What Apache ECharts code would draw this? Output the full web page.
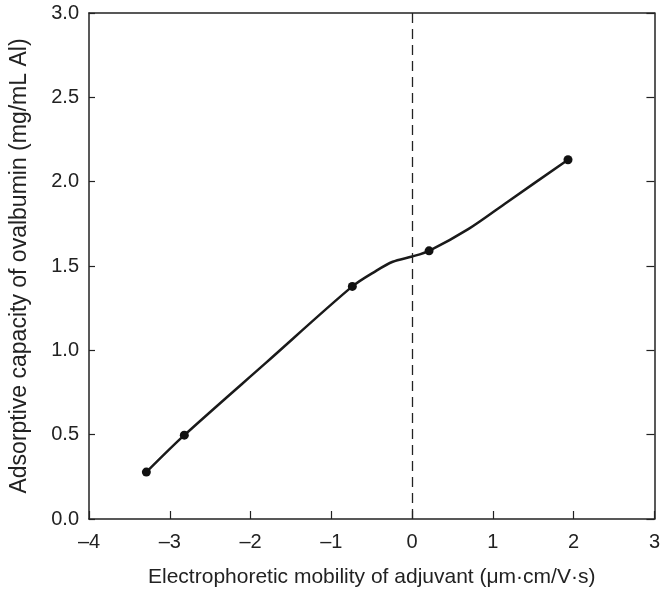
<!DOCTYPE html>
<html><head><meta charset="utf-8">
<script src="https://cdn.jsdelivr.net/npm/echarts@6/dist/echarts.min.js"></script>
<style>html,body{margin:0;padding:0;background:#fff}#c{width:663px;height:593px}</style>
</head><body><div id="c"></div>
<script>
var pointX = [-3.29, -2.82, -0.74, 0.21, 1.93];
var pointY = [0.278, 0.497, 1.379, 1.59, 2.13];
var curveX = [-3.29, -2.82, -1.8, -0.74, -0.45, -0.24, 0, 0.21, 0.7, 1.18, 1.93];
var curveY = [0.278, 0.497, 0.93, 1.379, 1.47, 1.525, 1.556, 1.59, 1.72, 1.88, 2.13];
var xTicks = [-4, -3, -2, -1, 0, 1, 2, 3];
var yTicks = [0.0, 0.5, 1.0, 1.5, 2.0, 2.5, 3.0];
var xTitle = 'Electrophoretic mobility of adjuvant (\u03bcm\u00b7cm/V\u00b7s)';
var yTitle = 'Adsorptive capacity of ovalbumin (mg/mL Al)';

var font = 'Liberation Sans, Arial, Helvetica, sans-serif';
var chart = echarts.init(document.getElementById('c'), null, {renderer: 'canvas'});
function pair(xs, ys) { return xs.map(function (x, i) { return [x, ys[i]]; }); }
function axLine() { return {show: true, onZero: false, lineStyle: {color: '#222', width: 1.5}}; }
chart.setOption({
  animation: false,
  grid: {left: 85, right: 4, top: 13, bottom: 73, containLabel: false},
  xAxis: [{
    type: 'value', min: xTicks[0], max: xTicks[xTicks.length - 1], interval: 1,
    axisLine: axLine(),
    axisTick: {show: true, inside: true, length: 8, lineStyle: {color: '#222', width: 1.2}},
    axisLabel: {color: '#222', fontSize: 20, fontFamily: font, margin: 13,
      formatter: function (v) { return v < 0 ? '\u2013' + Math.abs(v) : String(v); }},
    splitLine: {show: false},
    name: xTitle, nameLocation: 'middle', nameGap: 48,
    nameTextStyle: {color: '#222', fontSize: 21, fontFamily: font}
  }, {
    type: 'value', position: 'top', min: xTicks[0], max: xTicks[xTicks.length - 1], interval: 1,
    axisLine: axLine(), axisTick: {show: false}, axisLabel: {show: false}, splitLine: {show: false}
  }],
  yAxis: [{
    type: 'value', min: yTicks[0], max: yTicks[yTicks.length - 1], interval: 0.5,
    axisLine: axLine(),
    axisTick: {show: true, inside: true, length: 6, lineStyle: {color: '#222', width: 1.2}},
    axisLabel: {color: '#222', fontSize: 20, fontFamily: font, margin: 10,
      formatter: function (v) { return v.toFixed(1); }},
    splitLine: {show: false},
    name: yTitle, nameLocation: 'middle', nameGap: 58,
    nameTextStyle: {color: '#222', fontSize: 23, fontFamily: font}
  }, {
    type: 'value', position: 'right', min: yTicks[0], max: yTicks[yTicks.length - 1], interval: 0.5,
    axisLine: axLine(),
    axisTick: {show: true, inside: true, length: 8, lineStyle: {color: '#222', width: 1.2}},
    axisLabel: {show: false}, splitLine: {show: false}
  }],
  series: [{
    type: 'line', data: pair(curveX, curveY), smooth: 0.3,
    showSymbol: false, symbol: 'none',
    lineStyle: {color: '#1a1a1a', width: 2.5},
    markLine: {
      silent: true, symbol: ['none', 'none'], label: {show: false},
      lineStyle: {color: '#222', type: [10, 6], width: 1.3},
      data: [{xAxis: 0}]
    },
    z: 2
  }, {
    type: 'scatter', data: pair(pointX, pointY), symbol: 'circle', symbolSize: 9,
    itemStyle: {color: '#111', opacity: 1}, z: 3
  }]
});
</script></body></html>
